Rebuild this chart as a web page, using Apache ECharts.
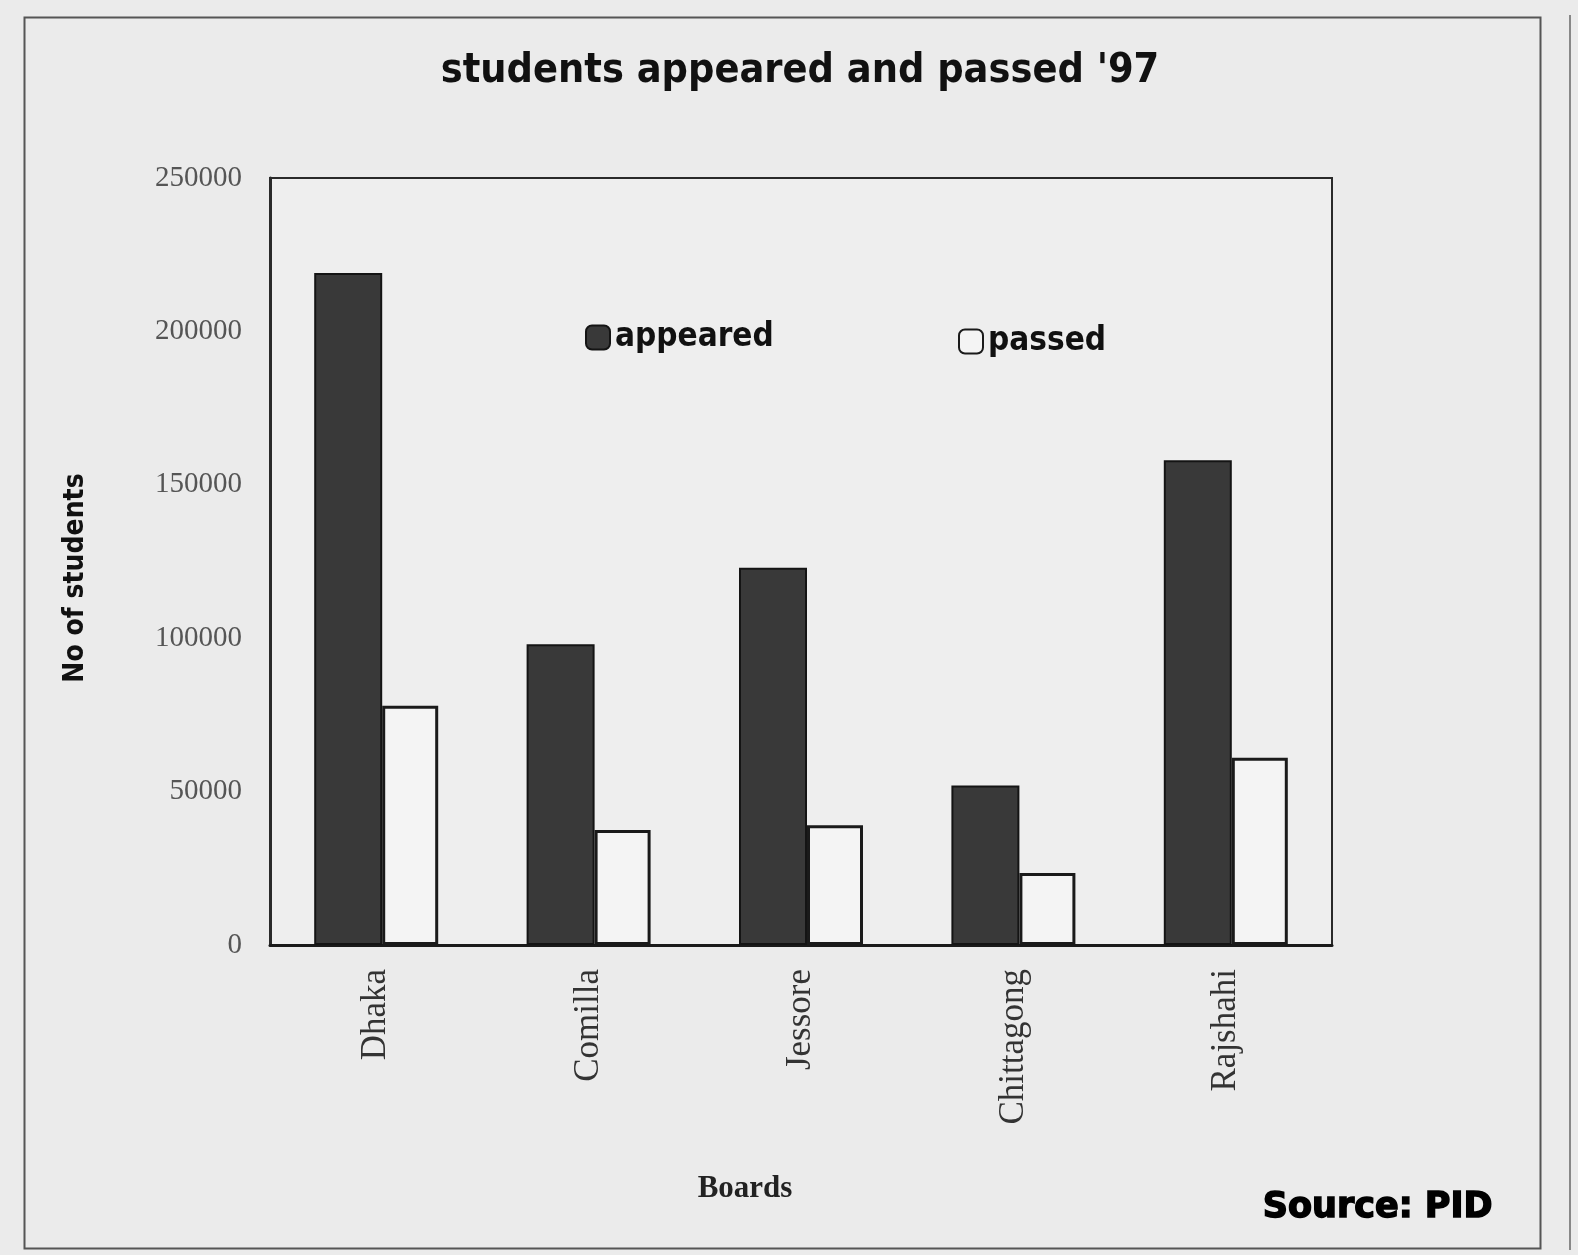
<!DOCTYPE html>
<html>
<head>
<meta charset="utf-8">
<script src="https://cdn.jsdelivr.net/npm/echarts@6/dist/echarts.min.js"></script>
<style>
  html, body { margin: 0; padding: 0; background: #ebebeb; }
  #chart { width: 1578px; height: 1255px; }
</style>
</head>
<body>
<div id="chart"></div>
<script>
// values
const boards = ['Dhaka', 'Comilla', 'Jessore', 'Chittagong', 'Rajshahi'];
const appeared = [219000, 98000, 123000, 52000, 158000];
const passed = [78000, 37500, 39000, 23500, 61000];
const yTicks = [0, 50000, 100000, 150000, 200000, 250000];

const serif = "'Liberation Serif', 'DejaVu Serif', serif";
const cond = "'DejaVu Sans Condensed', 'DejaVu Sans', sans-serif";

const chart = echarts.init(document.getElementById('chart'));

const legendText = { fontFamily: cond, fontWeight: 'bold', fontSize: 33, color: '#111' };

const option = {
  backgroundColor: '#ebebeb',
  animation: false,
  title: {
    text: "students appeared and passed '97",
    left: 795,
    top: 46,
    textAlign: 'center',
    textStyle: {
      fontFamily: cond,
      fontWeight: 'bold',
      fontSize: 41,
      color: '#111'
    }
  },
  legend: [
    {
      data: ['appeared'],
      left: 580,
      top: 316,
      itemWidth: 24,
      itemHeight: 24,
      itemGap: 8,
      icon: 'roundRect',
      textStyle: legendText
    },
    {
      data: ['passed'],
      left: 953,
      top: 320,
      itemWidth: 24,
      itemHeight: 24,
      icon: 'roundRect',
      textStyle: legendText
    }
  ],
  grid: {
    left: 270,
    right: 246,
    top: 178,
    bottom: 310,
    show: true,
    backgroundColor: '#eeeeee',
    borderColor: '#2a2a2a',
    borderWidth: 2
  },
  xAxis: {
    type: 'category',
    data: boards,
    name: 'Boards',
    nameLocation: 'middle',
    nameGap: 228,
    nameTextStyle: {
      fontFamily: serif,
      fontWeight: 'bold',
      fontSize: 31,
      color: '#222',
      padding: [0, 112, 0, 0]
    },
    axisLine: { lineStyle: { color: '#1a1a1a', width: 3 } },
    axisTick: { show: false },
    axisLabel: {
      rotate: 90,
      margin: 24,
      fontFamily: serif,
      fontSize: 35,
      color: '#333'
    }
  },
  yAxis: {
    type: 'value',
    min: 0,
    max: 250000,
    interval: 50000,
    axisLine: { show: true, lineStyle: { color: '#2a2a2a', width: 3 } },
    axisTick: { show: false },
    splitLine: { show: false },
    axisLabel: {
      margin: 28,
      fontFamily: serif,
      fontSize: 29,
      color: '#555',
      padding: [0, 0, 20, 0],
      formatter: function (v) {
        return yTicks.indexOf(v) >= 0 ? String(v) : '';
      }
    }
  },
  series: [
    {
      name: 'appeared',
      type: 'bar',
      data: appeared,
      barWidth: 68,
      barGap: '0%',
      itemStyle: {
        color: '#393939',
        borderColor: '#141414',
        borderWidth: 2
      }
    },
    {
      name: 'passed',
      type: 'bar',
      data: passed,
      barWidth: 56,
      itemStyle: {
        color: '#f4f4f4',
        borderColor: '#1a1a1a',
        borderWidth: 3
      }
    }
  ],
  graphic: [
    {
      type: 'rect',
      left: 22,
      top: 15,
      shape: { width: 1516, height: 1231 },
      style: { fill: 'none', stroke: '#555', lineWidth: 2 }
    },
    {
      type: 'line',
      shape: { x1: 1570, y1: 15, x2: 1570, y2: 1250 },
      style: { stroke: '#888', lineWidth: 2 }
    },
    {
      type: 'text',
      x: 76,
      y: 578,
      rotation: Math.PI / 2,
      style: {
        text: 'No of students',
        font: "bold 28px 'DejaVu Sans Condensed', 'DejaVu Sans', sans-serif",
        fill: '#111',
        align: 'center',
        verticalAlign: 'middle'
      }
    },
    {
      type: 'text',
      left: 1262,
      top: 1190,
      style: {
        text: 'Source: PID',
        font: "bold 35px 'DejaVu Sans', sans-serif",
        fill: '#000',
        stroke: '#000',
        lineWidth: 1.5
      }
    }
  ]
};

chart.setOption(option);
</script>
</body>
</html>
